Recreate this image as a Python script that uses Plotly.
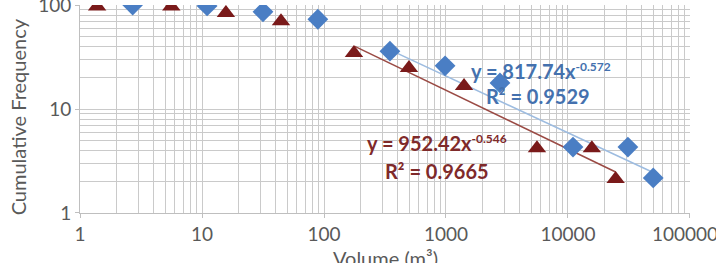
import plotly.graph_objects as go

# Data
blue_x = [2.7, 11, 31.6, 89, 347, 983, 2770, 11000, 31000, 50000]
blue_y = [100, 98, 86, 73, 36, 26, 17.8, 4.3, 4.3, 2.17]
red_x = [1.38, 5.6, 15.7, 44.4, 176, 497, 1406, 5570, 15700, 24600]
red_y = [97, 97, 84, 70, 34.5, 24.8, 16.6, 4.2, 4.2, 2.12]

blue_fit_x = [347, 50000]
blue_fit_y = [37, 2.45]
red_fit_x = [179, 24600]
red_fit_y = [40, 2.48]

SUP = "<sup><span style='font-size:12px'>{}</span></sup>"
blue_eq = "<b>y = 817.74x" + SUP.format("-0.572") + "</b>"
blue_r2 = "<b>R² = 0.9529</b>"
red_eq = "<b>y = 952.42x" + SUP.format("-0.546") + "</b>"
red_r2 = "<b>R² = 0.9665</b>"

x_ticks = [1, 10, 100, 1000, 10000, 100000]
x_labels = ["1", "10", "100", "1000", "10000", "100000\u00a0\u00a0"]
y_ticks = [1, 10, 100]
y_labels = ["1", "10", "100"]
x_title = "Volume (m³)"
y_title = "Cumulative Frequency"

BLUE = "#4A7EC4"
RED = "#7A1A1A"
BLUE_LINE = "#9DBCE0"
RED_LINE = "#9A4A44"
GRID = "#CACACA"
TXT = "#595959"
FONT = "Lato"

fig = go.Figure()
fig.add_trace(go.Scatter(x=blue_fit_x, y=blue_fit_y, mode="lines",
                         line=dict(color=BLUE_LINE, width=1.5), showlegend=False))
fig.add_trace(go.Scatter(x=red_fit_x, y=red_fit_y, mode="lines",
                         line=dict(color=RED_LINE, width=1.5), showlegend=False))
fig.add_trace(go.Scatter(x=blue_x, y=blue_y, mode="markers",
                         marker=dict(symbol="diamond", size=16, color=BLUE), showlegend=False))
fig.add_trace(go.Scatter(x=red_x, y=red_y, mode="markers",
                         marker=dict(symbol="triangle-up", size=16, color=RED), showlegend=False))

ann_blue = dict(family=FONT, size=20, color="#4471AE")
ann_red = dict(family=FONT, size=20, color="#7F2A2A")
fig.add_annotation(x=3.779, y=1.365, xref="x", yref="y", text=blue_eq, showarrow=False, font=ann_blue)
fig.add_annotation(x=3.754, y=1.125, xref="x", yref="y", text=blue_r2, showarrow=False, font=ann_blue)
fig.add_annotation(x=2.93, y=0.673, xref="x", yref="y", text=red_eq, showarrow=False, font=ann_red)
fig.add_annotation(x=2.926, y=0.404, xref="x", yref="y", text=red_r2, showarrow=False, font=ann_red)

# axis titles
fig.add_annotation(x=0.5, y=-0.215, xref="paper", yref="paper", text=x_title, showarrow=False,
                   xanchor="center", yanchor="middle", font=dict(family=FONT, size=20, color=TXT))
fig.add_annotation(x=-0.1016, y=0.46, xref="paper", yref="paper", text=y_title, showarrow=False,
                   textangle=-90, xanchor="center", yanchor="middle",
                   font=dict(family=FONT, size=20, color=TXT))

axis_common = dict(
    type="log", showgrid=True, gridcolor=GRID, gridwidth=1,
    showline=True, linecolor="#BFBFBF", linewidth=1,
    ticks="outside", ticklen=4, tickcolor="#BFBFBF",
    tickfont=dict(family=FONT, size=19, color=TXT),
    ticklabeloverflow="allow", automargin=False,
    minor=dict(showgrid=True, gridcolor=GRID, gridwidth=1, dtick="D1", ticks=""),
    zeroline=False, mirror=False,
)
fig.update_xaxes(**axis_common, range=[-0.0005, 5.0005],
                 tickvals=x_ticks, ticktext=x_labels)
fig.update_yaxes(**axis_common, range=[-0.0005, 2.0005],
                 tickvals=y_ticks, ticktext=y_labels)

fig.update_layout(
    width=716, height=263,
    margin=dict(l=80, r=26, t=5, b=50),
    paper_bgcolor="white", plot_bgcolor="white",
    font=dict(family=FONT),
)
fig.write_html("out.html")
